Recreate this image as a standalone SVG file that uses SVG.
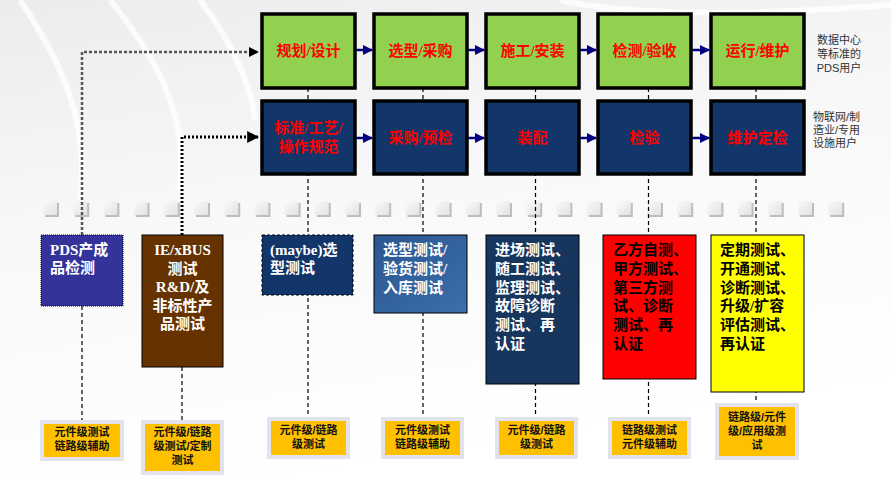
<svg xmlns="http://www.w3.org/2000/svg" width="891" height="479" viewBox="0 0 891 479">
<defs>
<linearGradient id="bg" x1="0" y1="0" x2="0.3" y2="1">
<stop offset="0" stop-color="#ECECEC"/>
<stop offset="0.45" stop-color="#F8F8F8"/>
<stop offset="1" stop-color="#FFFFFF"/>
</linearGradient>
<linearGradient id="sq" x1="0" y1="0" x2="1" y2="1">
<stop offset="0" stop-color="#FAFAFA"/>
<stop offset="1" stop-color="#E2E2E2"/>
</linearGradient>
<linearGradient id="blue4" x1="0" y1="0" x2="1" y2="1">
<stop offset="0" stop-color="#2A5690"/>
<stop offset="1" stop-color="#3C6FAD"/>
</linearGradient>
<marker id="ah" viewBox="0 0 10 10" refX="9" refY="5" markerWidth="4" markerHeight="4" orient="auto">
<path d="M0,0 L10,5 L0,10 z" fill="#000080"/>
</marker>
<marker id="ahk" viewBox="0 0 10 10" refX="9" refY="5" markerWidth="4" markerHeight="4" orient="auto">
<path d="M0,0 L10,5 L0,10 z" fill="#000"/>
</marker>
<g id="sqr">
<rect x="2" y="2" width="14" height="14" fill="#BDBDBD"/>
<rect x="0" y="0" width="14" height="14" fill="url(#sq)"/>
</g>
</defs>
<style>
.stage{stroke:#000;stroke-width:3.5}
.green{fill:#92D050}
.navy{fill:#12356A}
.ttl{font-family:"Liberation Serif","Noto Sans CJK SC",serif;font-weight:bold;font-size:15px;fill:#FF0000;text-anchor:middle}
.wt{font-family:"Liberation Serif","Noto Sans CJK SC",serif;font-weight:bold;font-size:15px;fill:#FFFFFF}
.bt{font-family:"Liberation Serif","Noto Sans CJK SC",serif;font-weight:bold;font-size:15px;fill:#000}
.side{font-family:"Liberation Sans","Noto Sans CJK SC",sans-serif;font-size:11px;fill:#333}
.lbl{fill:#FFC000;stroke:#E3E3EE;stroke-width:4}
.lt{font-family:"Liberation Sans","Noto Sans CJK SC",sans-serif;font-weight:bold;font-size:11px;fill:#111;text-anchor:middle}
.arr{stroke:#000080;stroke-width:2.5;fill:none;marker-end:url(#ah)}
.vd{stroke:#000;stroke-width:1.2;stroke-dasharray:4,3;fill:none}
</style>
<rect width="891" height="479" fill="url(#bg)"/>
<g fill="none" stroke="#FFFFFF" stroke-width="6" opacity="0.8">
<path d="M20,0 C60,60 90,120 80,200"/>
<path d="M110,0 C150,50 190,110 180,190"/>
<path d="M200,0 C230,40 250,80 255,120"/>
<path d="M560,0 C600,10 700,20 891,5"/>
</g>

<!-- separator squares -->
<g id="squares">
<use href="#sqr" x="43" y="201"/><use href="#sqr" x="73.2" y="201"/><use href="#sqr" x="103.4" y="201"/><use href="#sqr" x="133.6" y="201"/><use href="#sqr" x="163.8" y="201"/><use href="#sqr" x="194" y="201"/><use href="#sqr" x="224.2" y="201"/><use href="#sqr" x="254.4" y="201"/><use href="#sqr" x="284.6" y="201"/><use href="#sqr" x="314.8" y="201"/><use href="#sqr" x="345" y="201"/><use href="#sqr" x="375.2" y="201"/><use href="#sqr" x="405.4" y="201"/><use href="#sqr" x="435.6" y="201"/><use href="#sqr" x="465.8" y="201"/><use href="#sqr" x="496" y="201"/><use href="#sqr" x="526.2" y="201"/><use href="#sqr" x="556.4" y="201"/><use href="#sqr" x="586.6" y="201"/><use href="#sqr" x="616.8" y="201"/><use href="#sqr" x="647" y="201"/><use href="#sqr" x="677.2" y="201"/><use href="#sqr" x="707.4" y="201"/><use href="#sqr" x="737.6" y="201"/><use href="#sqr" x="767.8" y="201"/><use href="#sqr" x="798" y="201"/><use href="#sqr" x="828.2" y="201"/>
</g>

<!-- connectors -->
<g id="connectors">
<path class="vd" d="M308,88 V420"/>
<path class="vd" d="M423,88 V420"/>
<path class="vd" d="M535.5,88 V420"/>
<path class="vd" d="M648.5,88 V420"/>
<path class="vd" d="M756,88 V406"/>
<path class="vd" d="M82,306 V422"/>
<path class="vd" d="M182,367 V422"/>
<path d="M82,235 V52 H258" fill="none" stroke="#555" stroke-width="2.5" stroke-dasharray="3,2" marker-end="url(#ahk)"/>
<path d="M182,235 V137 H258" fill="none" stroke="#000" stroke-width="3" stroke-dasharray="2,2" marker-end="url(#ahk)"/>
<path class="arr" d="M355,50 H372"/>
<path class="arr" d="M467,50 H484"/>
<path class="arr" d="M579,50 H596"/>
<path class="arr" d="M691,50 H709"/>
<path class="arr" d="M355,138 H372"/>
<path class="arr" d="M467,138 H484"/>
<path class="arr" d="M579,138 H596"/>
<path class="arr" d="M691,138 H709"/>
</g>

<!-- top row -->
<g id="n-plan"><rect class="stage green" x="262" y="14" width="93" height="74"/><text class="ttl" x="308.5" y="56">规划/设计</text></g>
<g id="n-select"><rect class="stage green" x="374" y="14" width="93" height="74"/><text class="ttl" x="420.5" y="56">选型/采购</text></g>
<g id="n-build"><rect class="stage green" x="486" y="14" width="93" height="74"/><text class="ttl" x="532.5" y="56">施工/安装</text></g>
<g id="n-accept"><rect class="stage green" x="598" y="14" width="93" height="74"/><text class="ttl" x="644.5" y="56">检测/验收</text></g>
<g id="n-ops"><rect class="stage green" x="711" y="14" width="93" height="74"/><text class="ttl" x="757.5" y="56">运行/维护</text></g>

<!-- second row -->
<g id="n-std"><rect class="stage navy" x="262" y="101" width="93" height="73"/><text class="ttl" x="308.5" y="133">标准/工艺/</text><text class="ttl" x="308.5" y="152">操作规范</text></g>
<g id="n-proc"><rect class="stage navy" x="374" y="101" width="93" height="73"/><text class="ttl" x="420.5" y="143">采购/预检</text></g>
<g id="n-assy"><rect class="stage navy" x="486" y="101" width="93" height="73"/><text class="ttl" x="532.5" y="143">装配</text></g>
<g id="n-insp"><rect class="stage navy" x="598" y="101" width="93" height="73"/><text class="ttl" x="644.5" y="143">检验</text></g>
<g id="n-maint"><rect class="stage navy" x="711" y="101" width="93" height="73"/><text class="ttl" x="757.5" y="143">维护定检</text></g>

<!-- side notes -->
<g id="note-pds"><text class="side" x="839" y="44" text-anchor="middle">数据中心</text><text class="side" x="839" y="58" text-anchor="middle">等标准的</text><text class="side" x="839" y="72" text-anchor="middle">PDS用户</text></g>
<g id="note-iot"><text class="side" x="813" y="121">物联网/制</text><text class="side" x="813" y="134">造业/专用</text><text class="side" x="813" y="147">设施用户</text></g>

<!-- lower tier -->
<g id="b-pds"><rect x="41" y="235" width="82" height="71" fill="#333399" stroke="#000" stroke-width="1" stroke-dasharray="1,1"/><text class="wt" x="50" y="255">PDS产成</text><text class="wt" x="50" y="273">品检测</text></g>
<g id="b-ie"><rect x="142" y="235" width="81" height="132" fill="#663300" stroke="#000" stroke-width="1"/>
<g class="wt" text-anchor="middle"><text x="182.5" y="255">IE/xBUS</text><text x="182.5" y="274">测试</text><text x="182.5" y="292">R&amp;D/及</text><text x="182.5" y="311">非标性产</text><text x="182.5" y="329">品测试</text></g></g>
<g id="b-maybe"><rect x="262" y="235" width="91" height="60" fill="#12356A" stroke="#000" stroke-width="1" stroke-dasharray="3,2"/><text class="wt" x="270" y="255">(maybe)选</text><text class="wt" x="270" y="273">型测试</text></g>
<g id="b-sel"><rect x="374" y="235" width="93" height="78" fill="url(#blue4)" stroke="#000" stroke-width="1"/><text class="wt" x="383" y="255">选型测试/</text><text class="wt" x="383" y="274">验货测试/</text><text class="wt" x="383" y="293">入库测试</text></g>
<g id="b-site"><rect x="486" y="235" width="93" height="149" fill="#17365D" stroke="#000" stroke-width="1"/><g class="wt"><text x="495" y="255">进场测试、</text><text x="495" y="274">随工测试、</text><text x="495" y="293">监理测试、</text><text x="495" y="311">故障诊断</text><text x="495" y="330">测试、再</text><text x="495" y="349">认证</text></g></g>
<g id="b-acc"><rect x="603" y="235" width="93" height="144" fill="#FF0000" stroke="#000" stroke-width="1"/><g class="bt"><text x="613" y="255">乙方自测、</text><text x="613" y="274">甲方测试、</text><text x="613" y="293">第三方测</text><text x="613" y="311">试、诊断</text><text x="613" y="330">测试、再</text><text x="613" y="349">认证</text></g></g>
<g id="b-ops"><rect x="711" y="235" width="93" height="157" fill="#FFFF00" stroke="#000" stroke-width="1"/><g class="bt"><text x="720" y="255">定期测试、</text><text x="720" y="274">开通测试、</text><text x="720" y="293">诊断测试、</text><text x="720" y="311">升级/扩容</text><text x="720" y="330">评估测试、</text><text x="720" y="349">再认证</text></g></g>

<!-- bottom labels -->
<g id="l1"><rect class="lbl" x="42" y="422" width="80" height="37"/><text class="lt" x="82" y="436">元件级测试</text><text class="lt" x="82" y="450">链路级辅助</text></g>
<g id="l2"><rect class="lbl" x="143" y="422" width="79" height="51"/><text class="lt" x="182.5" y="436">元件级/链路</text><text class="lt" x="182.5" y="450">级测试/定制</text><text class="lt" x="182.5" y="464">测试</text></g>
<g id="l3"><rect class="lbl" x="269" y="419" width="79" height="38"/><text class="lt" x="308.5" y="434">元件级/链路</text><text class="lt" x="308.5" y="448">级测试</text></g>
<g id="l4"><rect class="lbl" x="383" y="419" width="79" height="38"/><text class="lt" x="422.5" y="434">元件级测试</text><text class="lt" x="422.5" y="448">链路级辅助</text></g>
<g id="l5"><rect class="lbl" x="497" y="419" width="79" height="38"/><text class="lt" x="536.5" y="434">元件级/链路</text><text class="lt" x="536.5" y="448">级测试</text></g>
<g id="l6"><rect class="lbl" x="610" y="419" width="79" height="38"/><text class="lt" x="649.5" y="434">链路级测试</text><text class="lt" x="649.5" y="448">元件级辅助</text></g>
<g id="l7"><rect class="lbl" x="717" y="405" width="80" height="53"/><text class="lt" x="757" y="421">链路级/元件</text><text class="lt" x="757" y="435">级/应用级测</text><text class="lt" x="757" y="449">试</text></g>
</svg>
